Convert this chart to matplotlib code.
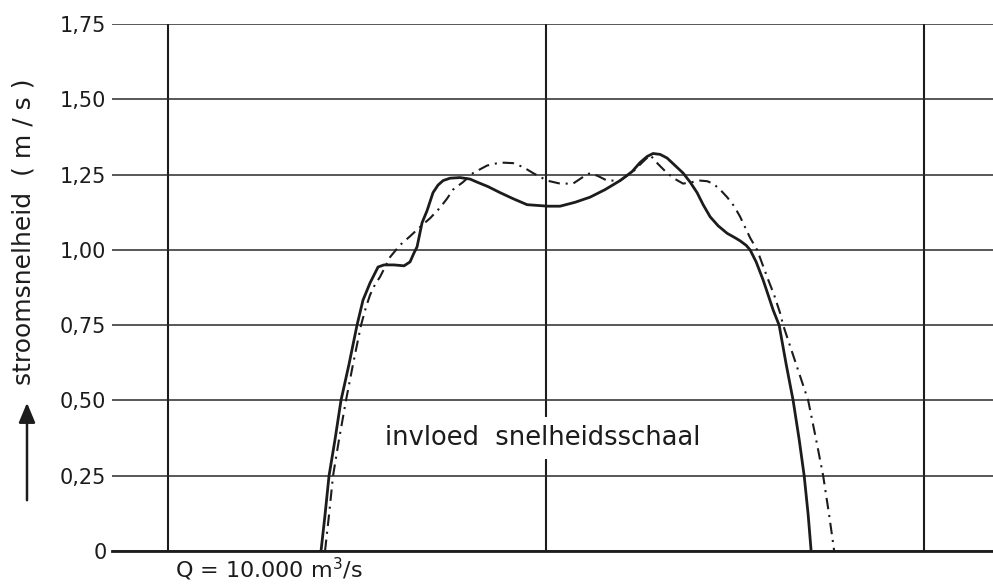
import matplotlib
matplotlib.use("Agg")
import matplotlib.pyplot as plt
from matplotlib.ticker import FuncFormatter

# ---- data (x in m across the river, y in m/s) ----
solid_x = [202.4, 207.7, 213.0, 220.9, 228.8, 239.4, 250.0, 257.9, 267.2, 273.8, 277.8, 285.7,
           298.9, 312.2, 320.1, 325.4, 329.4, 336.0, 342.6, 350.5, 357.1, 363.8, 373.0, 386.2,
           399.5, 408.7, 423.3, 439.2, 456.3, 474.9, 502.6, 518.5, 538.4, 558.2, 578.0, 597.9,
           613.8, 624.3, 633.6, 641.5, 650.8, 660.0, 670.6, 681.2, 690.5, 699.7, 707.7, 716.9,
           727.5, 739.4, 750.0, 756.6, 764.6, 769.8, 777.8, 787.0, 793.7, 800.3, 808.2, 817.5,
           826.7, 834.7, 841.3, 846.6, 850.5]
solid_y = [0.00, 0.12, 0.25, 0.37, 0.50, 0.62, 0.75, 0.833, 0.89, 0.923, 0.943, 0.95,
           0.95, 0.947, 0.96, 0.99, 1.01, 1.09, 1.13, 1.19, 1.215, 1.23, 1.238, 1.24,
           1.235, 1.225, 1.21, 1.19, 1.17, 1.15, 1.145, 1.145, 1.158, 1.175, 1.20, 1.23,
           1.26, 1.29, 1.31, 1.32, 1.317, 1.305, 1.28, 1.255, 1.225, 1.19, 1.15, 1.11,
           1.08, 1.055, 1.04, 1.03, 1.015, 1.00, 0.96, 0.90, 0.85, 0.80, 0.75, 0.62,
           0.50, 0.37, 0.25, 0.12, 0.00]

dash_x = [207.7, 213.0, 218.3, 226.2, 235.4, 244.7, 255.3, 261.9, 267.2, 273.8, 280.4, 293.7,
          306.9, 320.1, 333.3, 346.6, 359.8, 369.0, 377.0, 390.2, 403.4, 422.0, 439.2, 456.3,
          469.6, 482.8, 501.3, 518.5, 535.7, 547.6, 558.2, 568.8, 580.7, 597.9, 615.1, 627.0,
          637.6, 648.1, 660.0, 670.6, 681.2, 693.1, 703.7, 713.0, 720.9, 730.2, 739.4, 748.7,
          756.6, 763.2, 769.8, 779.1, 785.7, 792.3, 801.6, 809.5, 813.5, 830.7, 846.6, 857.1,
          866.4, 874.3, 881.0]
dash_y = [0.00, 0.12, 0.25, 0.37, 0.50, 0.62, 0.75, 0.81, 0.85, 0.885, 0.91, 0.976,
          1.016, 1.045, 1.076, 1.105, 1.14, 1.17, 1.20, 1.225, 1.255, 1.28, 1.29, 1.288,
          1.275, 1.255, 1.23, 1.22, 1.22, 1.24, 1.255, 1.245, 1.23, 1.23, 1.26, 1.29,
          1.315, 1.285, 1.255, 1.235, 1.22, 1.225, 1.23, 1.228, 1.22, 1.20, 1.175, 1.145,
          1.11, 1.075, 1.04, 1.00, 0.955, 0.91, 0.85, 0.79, 0.75, 0.62, 0.50, 0.37,
          0.25, 0.12, 0.00]

y_ticks = [0, 0.25, 0.50, 0.75, 1.00, 1.25, 1.50, 1.75]
x_grid = [0, 500, 1000]

ylabel = "stroomsnelheid  ( m / s )"
annot = "invloed  snelheidsschaal"
qlabel = r"Q = 10.000 m$^3$/s"

plt.rcParams['font.family'] = ['DejaVu Sans']
ink = "#1c1c1c"

fig = plt.figure(figsize=(9.93, 5.85), dpi=100)
ax = fig.add_axes([112/993, 34/585, (993-112)/993, 527/585])
ax.set_xlim(-74, 1091)
ax.set_ylim(0, 1.75)

for s in ['top', 'right', 'left']:
    ax.spines[s].set_visible(False)
ax.spines['bottom'].set_linewidth(2.0)
ax.spines['bottom'].set_color(ink)

ax.set_yticks(y_ticks)
ax.yaxis.set_major_formatter(FuncFormatter(lambda v, p: "0" if v == 0 else f"{v:.2f}".replace('.', ',')))
ax.set_xticks(x_grid)
ax.set_xticklabels([])
ax.tick_params(axis='both', length=0, labelsize=15, colors=ink, pad=4)
ax.grid(axis='y', color="#2a2a2a", linewidth=1.1)
ax.grid(axis='x', color=ink, linewidth=1.5)

ax.plot(solid_x, solid_y, color=ink, lw=2.0, solid_joinstyle='round', zorder=4)
ax.plot(dash_x, dash_y, color=ink, lw=1.5, linestyle=(0, (5.5, 2.8, 1, 2.8)), zorder=4)

ax.text(496, 0.375, annot, ha='center', va='center', fontsize=18.5, color=ink, zorder=5,
        bbox=dict(facecolor='white', edgecolor='none', pad=6))
ax.text(9, -0.062, qlabel, ha='left', va='center', fontsize=16, color=ink, clip_on=False)

fig.text(24/993, 1 - 232/585, ylabel, rotation=90, ha='center', va='center', fontsize=18, color=ink)
fig.add_artist(matplotlib.patches.FancyArrowPatch((27/993, 1 - 503/585), (27/993, 1 - 400/585),
               transform=fig.transFigure, arrowstyle='-|>,head_length=12,head_width=5',
               color=ink, lw=1.8, mutation_scale=1))

fig.savefig("out.png", dpi=100, facecolor='white')
